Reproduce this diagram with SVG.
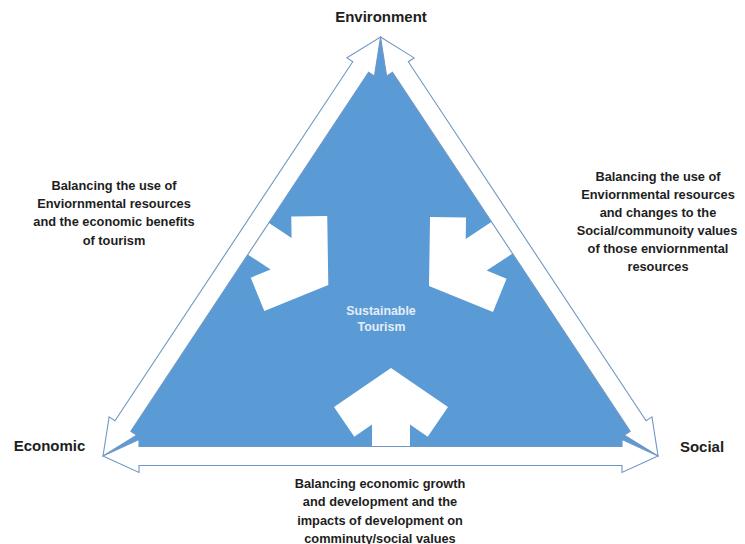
<svg xmlns="http://www.w3.org/2000/svg" width="745" height="544" viewBox="0 0 745 544">
  <style>
    .lbl { font-family: "Liberation Sans", Arial, sans-serif; font-weight: bold; fill: #1e1e1e; text-anchor: middle; }
    .big { font-size: 15px; }
    .small { font-size: 12.8px; }
    .center { font-family: "Liberation Sans", Arial, sans-serif; font-weight: bold; font-size: 12.4px; fill: #e4edf7; text-anchor: middle; }
    .dbl { fill: #ffffff; stroke: #7097c3; stroke-width: 1.1; stroke-linejoin: miter; }
    .blk { fill: #ffffff; }
  </style>
  <defs>
    <path id="blockArrow" d="M0,0 L57,39 L36.7,68.7 L19,56.6 L19,95 L-19,95 L-19,56.6 L-36.7,68.7 L-57,39 Z"/>
    <path id="sideArrow" d="M0,0 L36,-16.5 L36,-9.5 L466.6,-9.5 L466.6,-16.5 L502.6,0 L466.6,16.5 L466.6,9.5 L36,9.5 L36,16.5 Z"/>
  </defs>

  <g id="triangle">
    <polygon points="103,456 380.5,37 658,456" fill="#5b9bd5"/>
  </g>

  <g id="inner-arrows">
    <use href="#blockArrow" class="blk" transform="translate(328.3,285) rotate(123.5)"/>
    <use href="#blockArrow" class="blk" transform="translate(429,286) rotate(-123.5)"/>
    <use href="#blockArrow" class="blk" transform="translate(391,368)"/>
  </g>

  <g id="connectors">
    <use href="#sideArrow" class="dbl" transform="translate(103,456) rotate(-56.48)"/>
    <use href="#sideArrow" class="dbl" transform="translate(380.5,37) rotate(56.48)"/>
    <polygon class="dbl" points="103,456 139,439.5 139,446.5 622,446.5 622,439.5 658,456 622,472.5 622,465.5 139,465.5 139,472.5"/>
  </g>

  <g id="sustainable-tourism">
    <text class="center" x="381" y="314.5">Sustainable</text>
    <text class="center" x="381.5" y="331">Tourism</text>
  </g>

  <g id="environment">
    <text class="lbl big" x="381" y="21.5">Environment</text>
  </g>
  <g id="economic">
    <text class="lbl big" x="49.5" y="451">Economic</text>
  </g>
  <g id="social">
    <text class="lbl big" x="702" y="451.5">Social</text>
  </g>

  <g id="label-env-econ">
    <text class="lbl small" x="114" y="189.5">Balancing the use of</text>
    <text class="lbl small" x="114" y="207.8">Enviornmental resources</text>
    <text class="lbl small" x="114" y="226.2">and the economic benefits</text>
    <text class="lbl small" x="114" y="244.5">of tourism</text>
  </g>

  <g id="label-env-social">
    <text class="lbl small" x="658" y="180.5">Balancing the use of</text>
    <text class="lbl small" x="658" y="198.5">Enviornmental resources</text>
    <text class="lbl small" x="658" y="216.5">and changes to the</text>
    <text class="lbl small" x="657" y="234.5">Social/communoity values</text>
    <text class="lbl small" x="658" y="252.8">of those enviornmental</text>
    <text class="lbl small" x="658" y="270.8">resources</text>
  </g>

  <g id="label-econ-social">
    <text class="lbl small" x="380" y="488">Balancing economic growth</text>
    <text class="lbl small" x="380" y="506.3">and development and the</text>
    <text class="lbl small" x="380" y="524.6">impacts of development on</text>
    <text class="lbl small" x="380" y="542.5">comminuty/social values</text>
  </g>
</svg>
